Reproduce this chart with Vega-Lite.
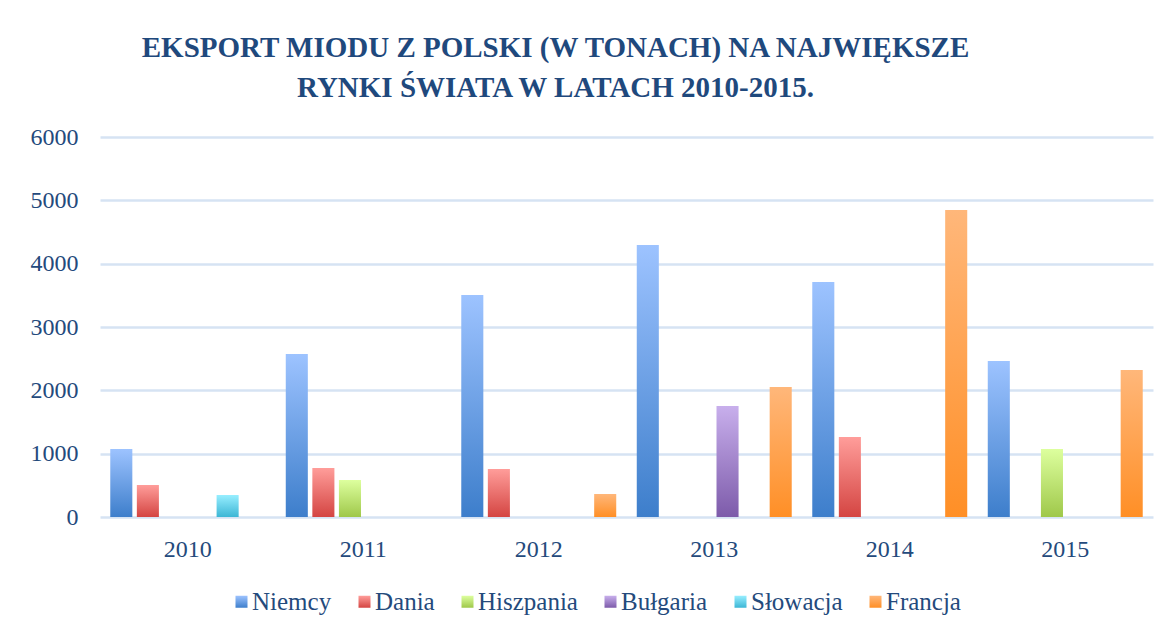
{
  "$schema": "https://vega.github.io/schema/vega-lite/v6.json",
  "autosize": {"type": "none"},
  "width": 1053,
  "height": 380,
  "padding": {"left": 100, "top": 137, "right": 16, "bottom": 114},
  "background": "white",
  "title": {
    "text": ["EKSPORT MIODU Z POLSKI (W TONACH) NA NAJWIĘKSZE", "RYNKI ŚWIATA W LATACH 2010-2015."],
    "font": "Liberation Serif",
    "fontSize": 29,
    "fontWeight": "bold",
    "color": "#1f497d",
    "lineHeight": 40,
    "anchor": "middle",
    "dx": -71,
    "offset": 22
  },
  "data": {
    "values": [
      {"year": "2010", "series": "Niemcy", "value": 1074},
      {"year": "2010", "series": "Dania", "value": 505},
      {"year": "2010", "series": "Słowacja", "value": 347},
      {"year": "2011", "series": "Niemcy", "value": 2574},
      {"year": "2011", "series": "Dania", "value": 774},
      {"year": "2011", "series": "Hiszpania", "value": 584},
      {"year": "2012", "series": "Niemcy", "value": 3505},
      {"year": "2012", "series": "Dania", "value": 758},
      {"year": "2012", "series": "Francja", "value": 363},
      {"year": "2013", "series": "Niemcy", "value": 4295},
      {"year": "2013", "series": "Bułgaria", "value": 1753},
      {"year": "2013", "series": "Francja", "value": 2053},
      {"year": "2014", "series": "Niemcy", "value": 3710},
      {"year": "2014", "series": "Dania", "value": 1263},
      {"year": "2014", "series": "Francja", "value": 4847},
      {"year": "2015", "series": "Niemcy", "value": 2463},
      {"year": "2015", "series": "Hiszpania", "value": 1074},
      {"year": "2015", "series": "Francja", "value": 2321}
    ]
  },
  "mark": {
    "type": "bar",
    "strokeWidth": 0,
    "fill": {"expr": "[{gradient:'linear',x1:0,y1:0,x2:0,y2:1,stops:[{offset:0,color:'#9dc3ff'},{offset:1,color:'#3d7ecb'}]},{gradient:'linear',x1:0,y1:0,x2:0,y2:1,stops:[{offset:0,color:'#ff9d9a'},{offset:1,color:'#d44542'}]},{gradient:'linear',x1:0,y1:0,x2:0,y2:1,stops:[{offset:0,color:'#ddff9e'},{offset:1,color:'#9fc84a'}]},{gradient:'linear',x1:0,y1:0,x2:0,y2:1,stops:[{offset:0,color:'#c8afec'},{offset:1,color:'#7d5baa'}]},{gradient:'linear',x1:0,y1:0,x2:0,y2:1,stops:[{offset:0,color:'#97eeff'},{offset:1,color:'#3cb6d5'}]},{gradient:'linear',x1:0,y1:0,x2:0,y2:1,stops:[{offset:0,color:'#ffb77a'},{offset:1,color:'#ff8f26'}]}][indexof(['Niemcy','Dania','Hiszpania','Bułgaria','Słowacja','Francja'], datum.series || datum.value)]"}
  },
  "encoding": {
    "x": {
      "field": "year",
      "type": "nominal",
      "scale": {"paddingInner": 0.117, "paddingOuter": 0.0585},
      "axis": {
        "title": null,
        "labelAngle": 0,
        "ticks": false,
        "domain": false,
        "labelFont": "Liberation Serif",
        "labelFontSize": 24,
        "labelColor": "#244a7c",
        "labelPadding": 20
      }
    },
    "xOffset": {
      "field": "series",
      "type": "nominal",
      "scale": {"domain": ["Niemcy", "Dania", "Hiszpania", "Bułgaria", "Słowacja", "Francja"], "paddingInner": 0.17, "paddingOuter": 0}
    },
    "y": {
      "field": "value",
      "type": "quantitative",
      "scale": {"domain": [0, 6000]},
      "axis": {
        "title": null,
        "values": [0, 1000, 2000, 3000, 4000, 5000, 6000],
        "format": "d",
        "ticks": false,
        "domain": false,
        "gridColor": "#d6e3f3",
        "gridWidth": 2.5,
        "labelFont": "Liberation Serif",
        "labelFontSize": 24,
        "labelColor": "#244a7c",
        "labelPadding": 22
      }
    },
    "stroke": {
      "field": "series",
      "type": "nominal",
      "scale": {
        "domain": ["Niemcy", "Dania", "Hiszpania", "Bułgaria", "Słowacja", "Francja"],
        "range": ["#6fa0e6", "#ea7270", "#bee474", "#a285cb", "#6ad2ea", "#ffa350"]
      },
      "legend": {
        "title": null,
        "orient": "none",
        "direction": "horizontal",
        "legendX": 129,
        "legendY": 452,
        "symbolType": "square",
        "symbolSize": 144,
        "symbolStrokeWidth": 0,
        "labelFont": "Liberation Serif",
        "labelFontSize": 25,
        "labelColor": "#244a7c",
        "labelOffset": -2,
        "columnPadding": 20,
        "encode": {
          "symbols": {
            "update": {
              "strokeWidth": {"value": 0},
              "opacity": {"value": 1}
            }
          }
        }
      }
    }
  },
  "config": {"view": {"stroke": null}}
}
